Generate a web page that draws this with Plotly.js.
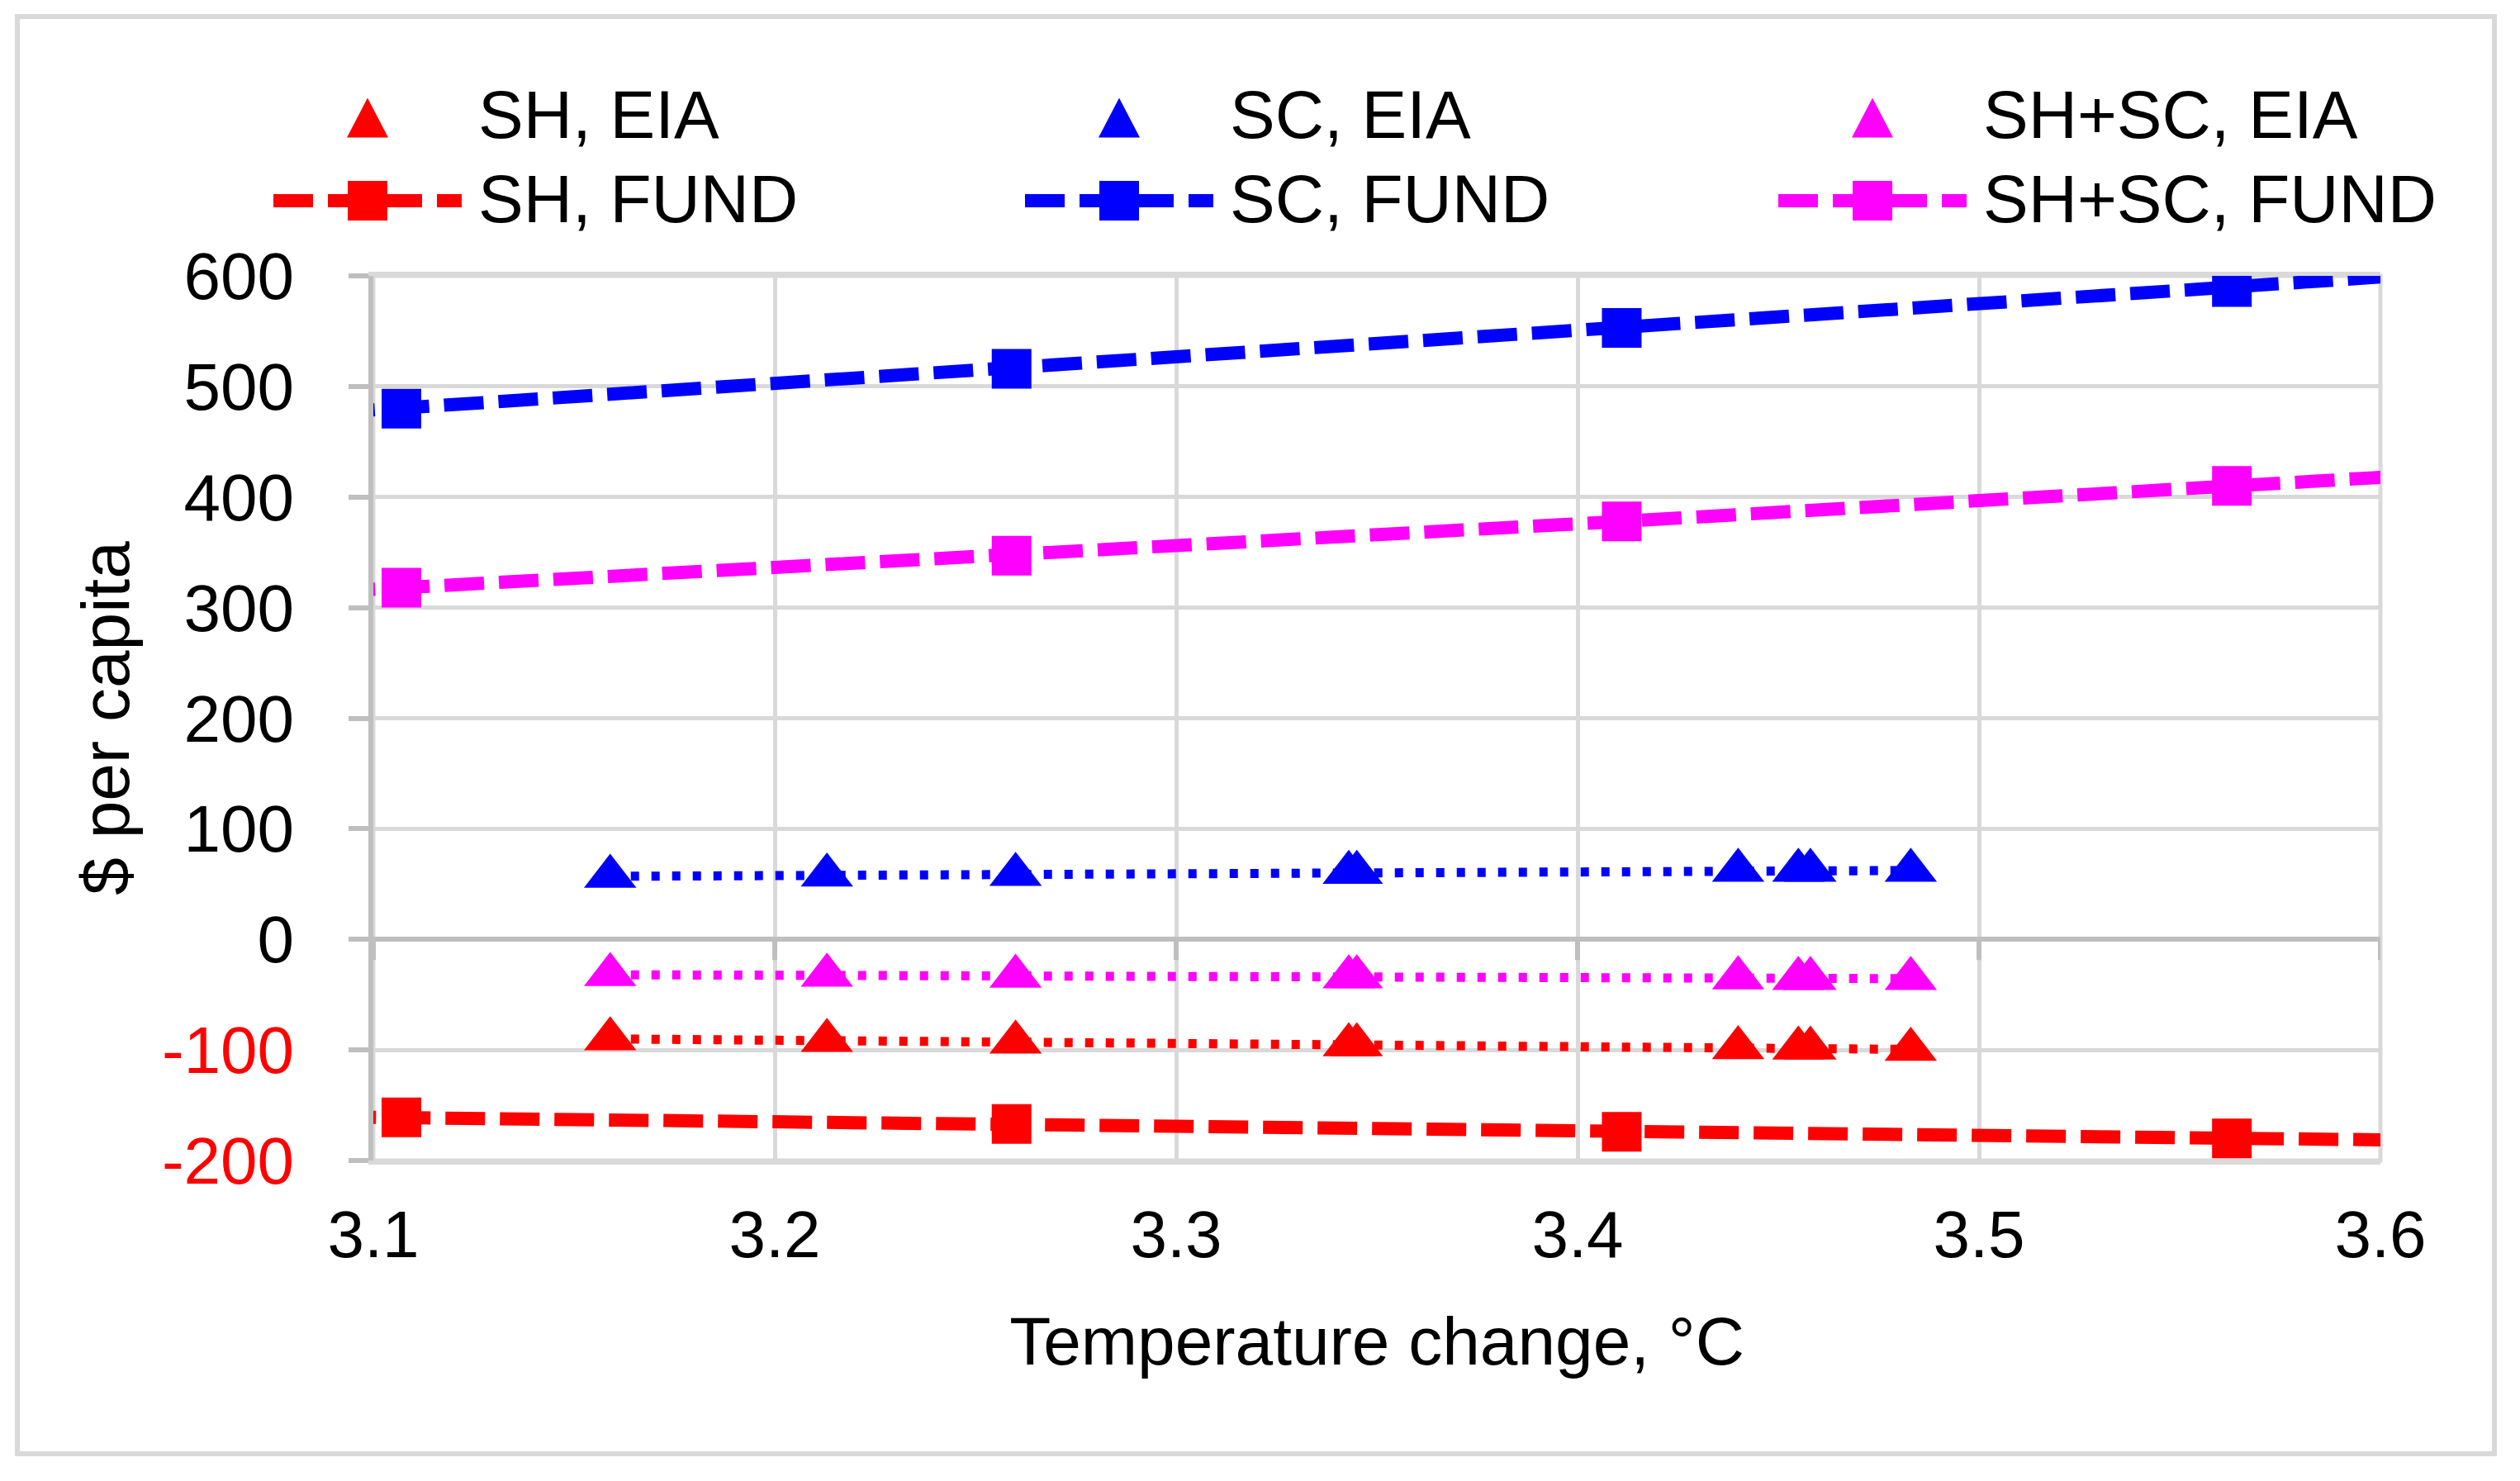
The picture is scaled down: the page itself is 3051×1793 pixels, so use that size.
<!DOCTYPE html>
<html><head><meta charset="utf-8">
<script src="https://cdn.plot.ly/plotly-3.0.1.min.js"></script>
<style>html,body{margin:0;padding:0;background:#fff;overflow:hidden}#chart{width:3051px;height:1793px}</style>
</head><body><div id="chart"></div>
<script>
// ---- data ----
const seriesNames = ["SH, EIA", "SC, EIA", "SH+SC, EIA", "SH, FUND", "SC, FUND", "SH+SC, FUND"];
const seriesColors = ["#FF0000", "#0000FF", "#FF00FF", "#FF0000", "#0000FF", "#FF00FF"];
const eiaTemp = [3.159, 3.213, 3.260, 3.343, 3.345, 3.440, 3.455, 3.458, 3.483];
const shEIA = [-90, -91.5, -93, -95.5, -95.5, -98, -98.5, -98.5, -99.5];
const scEIA = [57, 58, 58.7, 60.5, 60.5, 62.3, 62.3, 62.3, 62.3];
const shscEIA = [-32, -32.5, -33.5, -34, -34, -35, -35.5, -35.5, -35.5];
const fundTemp = [2.955, 3.107, 3.259, 3.411, 3.563, 3.715];
const shFUND = [-155, -161, -167, -174, -180, -186];
const scFUND = [444, 480, 516, 553, 590, 627];
const shscFUND = [288, 318, 347, 378, 410, 442];
const xTicks = [3.1, 3.2, 3.3, 3.4, 3.5, 3.6];
const yTicks = [-200, -100, 0, 100, 200, 300, 400, 500, 600];
const xTitle = "Temperature change, °C";
const yTitle = "$ per capita";

// ---- layout geometry ----
const W = 3051, H = 1793, L = 452, R = 2882, T = 334, B = 1405;
const fx = px => (px - L) / (R - L);
const fy = py => (B - py) / (B - T);
const FONT = "Liberation Sans, Arial, sans-serif";
const GRID = "#D9D9D9", AXIS = "#BFBFBF";
const FUND_DASH = "48px,18px", EIA_DOT = "10px,15px";

const eiaSeries = [shEIA, scEIA, shscEIA];
const fundSeries = [shFUND, scFUND, shscFUND];
const traces = [];
eiaSeries.forEach((ys, i) => traces.push({
  type: "scatter", mode: "lines+markers", x: eiaTemp, y: ys, name: seriesNames[i],
  line: {color: seriesColors[i], width: 11, dash: EIA_DOT},
  marker: {symbol: "triangle-up", size: 55, color: seriesColors[i]},
  showlegend: false, cliponaxis: true
}));
fundSeries.forEach((ys, i) => traces.push({
  type: "scatter", mode: "lines+markers", x: fundTemp, y: ys, name: seriesNames[i + 3],
  line: {color: seriesColors[i + 3], width: 16, dash: FUND_DASH},
  marker: {symbol: "square", size: 48, color: seriesColors[i + 3]},
  showlegend: false, cliponaxis: true
}));

const shapes = [];
// outer chart border
shapes.push({type: "rect", xref: "paper", yref: "paper", x0: fx(21), x1: fx(3020), y0: fy(20), y1: fy(1760),
  line: {color: GRID, width: 6}, layer: "below"});
// plot border
shapes.push({type: "rect", xref: "paper", yref: "paper", x0: 0, x1: 1, y0: 0, y1: 1,
  line: {color: GRID, width: 5}, layer: "below"});
// x tick marks on the zero line
xTicks.forEach(t => shapes.push({type: "line", xref: "x", yref: "y", ysizemode: "pixel", yanchor: 0,
  x0: t, x1: t, y0: 0, y1: -25, line: {color: AXIS, width: 6}}));

// custom legend
const colCx = [445, 1355, 2267];
const rowCy = [142.5, 243];
const rowTy = [139, 240];
const annotations = [];
seriesNames.forEach((nm, i) => {
  const col = i % 3, row = Math.floor(i / 3), cx = colCx[col], cy = rowCy[row], c = seriesColors[i];
  if (row === 0) {
    shapes.push({type: "path", xref: "paper", yref: "paper",
      path: `M ${fx(cx - 25)},${fy(cy + 24)} L ${fx(cx + 25)},${fy(cy + 24)} L ${fx(cx)},${fy(cy - 24)} Z`,
      fillcolor: c, line: {width: 0}});
  } else {
    shapes.push({type: "line", xref: "paper", yref: "paper", x0: fx(cx - 114), x1: fx(cx + 114), y0: fy(cy), y1: fy(cy),
      line: {color: c, width: 16, dash: FUND_DASH}});
    shapes.push({type: "rect", xref: "paper", yref: "paper", x0: fx(cx - 24), x1: fx(cx + 24), y0: fy(cy - 24), y1: fy(cy + 24),
      fillcolor: c, line: {width: 0}});
  }
  annotations.push({xref: "paper", yref: "paper", x: fx(cx + 132), y: fy(rowTy[row]), xanchor: "left", yanchor: "middle",
    text: nm, showarrow: false, font: {family: FONT, size: 82, color: "#000"}});
});

const yTickText = yTicks.map(v => v < 0 ? `<span style="color:#FF0000">${v}</span>` : `${v}`);

const layout = {
  width: W, height: H,
  margin: {l: L, r: W - R, t: T, b: H - B, pad: 0},
  paper_bgcolor: "#fff", plot_bgcolor: "#fff",
  font: {family: FONT, size: 80, color: "#000"},
  showlegend: false,
  xaxis: {
    range: [xTicks[0], xTicks[xTicks.length - 1]], tickmode: "array", tickvals: xTicks,
    ticktext: xTicks.map(v => v.toFixed(1)),
    showgrid: true, gridcolor: GRID, gridwidth: 5, zeroline: false,
    showline: true, linecolor: GRID, linewidth: 5, mirror: true,
    ticks: "", ticklabelstandoff: 16, automargin: false,
    tickfont: {family: FONT, size: 80, color: "#000"},
    title: {text: xTitle, font: {family: FONT, size: 82, color: "#000"}, standoff: 58}
  },
  yaxis: {
    range: [yTicks[0], yTicks[yTicks.length - 1]], tickmode: "array", tickvals: yTicks, ticktext: yTickText,
    showgrid: true, gridcolor: GRID, gridwidth: 5,
    zeroline: true, zerolinecolor: AXIS, zerolinewidth: 6,
    showline: true, linecolor: AXIS, linewidth: 6, mirror: false,
    ticks: "outside", ticklen: 24, tickwidth: 6, tickcolor: AXIS, ticklabelstandoff: 50, automargin: false,
    tickfont: {family: FONT, size: 80, color: "#000"},
    title: {text: yTitle, font: {family: FONT, size: 82, color: "#000"}, standoff: 14}
  },
  shapes: shapes,
  annotations: annotations
};

Plotly.newPlot("chart", traces, layout, {displayModeBar: false, staticPlot: true});
</script>
</body></html>
